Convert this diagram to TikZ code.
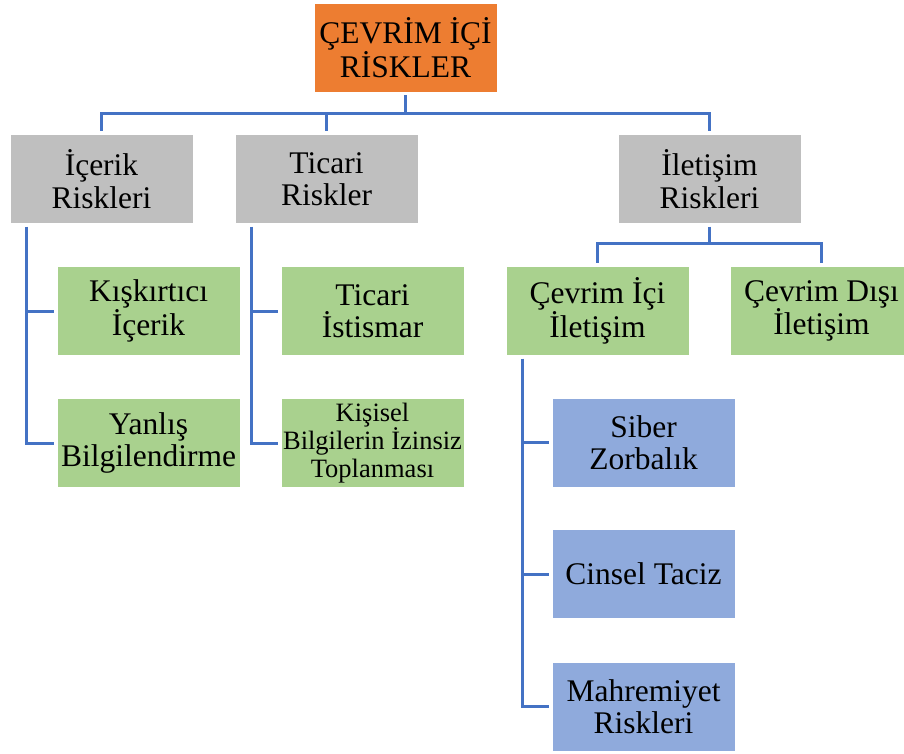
\documentclass[tikz,border=0pt]{standalone}
\usepackage{fontspec}
\setmainfont{Liberation Serif}
\usepackage{tikz}
\usepackage{xcolor}
\usetikzlibrary{positioning}
\definecolor{rootorange}{HTML}{ED7D31}
\definecolor{riskgray}{HTML}{BFBFBF}
\definecolor{riskgreen}{HTML}{A9D18E}
\definecolor{riskblue}{HTML}{8FAADC}
\definecolor{linkblue}{HTML}{4472C4}
\tikzset{
    box/.style={rectangle, draw=white, line width=0.8pt, minimum width=183pt, minimum height=89pt,
        inner sep=0pt, align=center, font=\fontsize{31.5}{32.5}\selectfont},
    link/.style={draw=linkblue, line width=3pt, shorten <=3pt, shorten >=3pt}
}

\begin{document}
\begin{tikzpicture}[x=1pt, y=-1pt]
                        \fill[white] (0,0) rectangle (904,753);
                        \useasboundingbox (0,0) rectangle (904,753);

                        \node[box, fill=rootorange] (root) at (405.5, 47.5) {ÇEVRİM İÇİ\\RİSKLER};
                        \node[box, fill=riskgray] (icerik) at (101.5, 179) {İçerik\\Riskleri};
                        \node[box, fill=riskgray] (ticari) at (326.5, 179) {Ticari\\Riskler};
                        \node[box, fill=riskgray] (iletisim) at (709.5, 179) {İletişim\\Riskleri};
                        \node[box, fill=riskgreen] (kiskirtici) at (148.5, 311) {Kışkırtıcı\\İçerik};
                        \node[box, fill=riskgreen] (yanlis) at (148.5, 443) {Yanlış\\Bilgilendirme};
                        \node[box, fill=riskgreen] (istismar) at (372.5, 311) {Ticari\\İstismar};
                        \node[box, fill=riskgreen, font=\fontsize{26.5}{28}\selectfont] (kisisel) at (372.5, 443) {Kişisel\\Bilgilerin İzinsiz\\Toplanması};
                        \node[box, fill=riskgreen] (cevrimici) at (597.5, 311) {Çevrim İçi\\İletişim};
                        \node[box, fill=riskgreen] (cevrimdisi) at (821.5, 311) {Çevrim Dışı\\İletişim};
                        \node[box, fill=riskblue] (siber) at (643.5, 442.5) {Siber\\Zorbalık};
                        \node[box, fill=riskblue] (cinsel) at (643.5, 574) {Cinsel Taciz};
                        \node[box, fill=riskblue] (mahremiyet) at (643.5, 706.5) {Mahremiyet\\Riskleri};

                        \draw[link] (root.south) -- ++(0, 21) -| (icerik.north);
                        \draw[link] (root.south) -- ++(0, 21) -| (ticari.north);
                        \draw[link] (root.south) -- ++(0, 21) -| (iletisim.north);
                        \draw[link] (iletisim.south) -- ++(0, 20) -| (cevrimici.north);
                        \draw[link] (iletisim.south) -- ++(0, 20) -| (cevrimdisi.north);

                        \draw[link] ([xshift=17pt]icerik.south west) |- (kiskirtici.west);
                        \draw[link] ([xshift=17pt]icerik.south west) |- (yanlis.west);
                        \draw[link] ([xshift=17pt]ticari.south west) |- (istismar.west);
                        \draw[link] ([xshift=17pt]ticari.south west) |- (kisisel.west);
                        \draw[link] ([xshift=17pt]cevrimici.south west) |- (siber.west);
                        \draw[link] ([xshift=17pt]cevrimici.south west) |- (cinsel.west);
                        \draw[link] ([xshift=17pt]cevrimici.south west) |- (mahremiyet.west);
                    \end{tikzpicture}
\end{document}
